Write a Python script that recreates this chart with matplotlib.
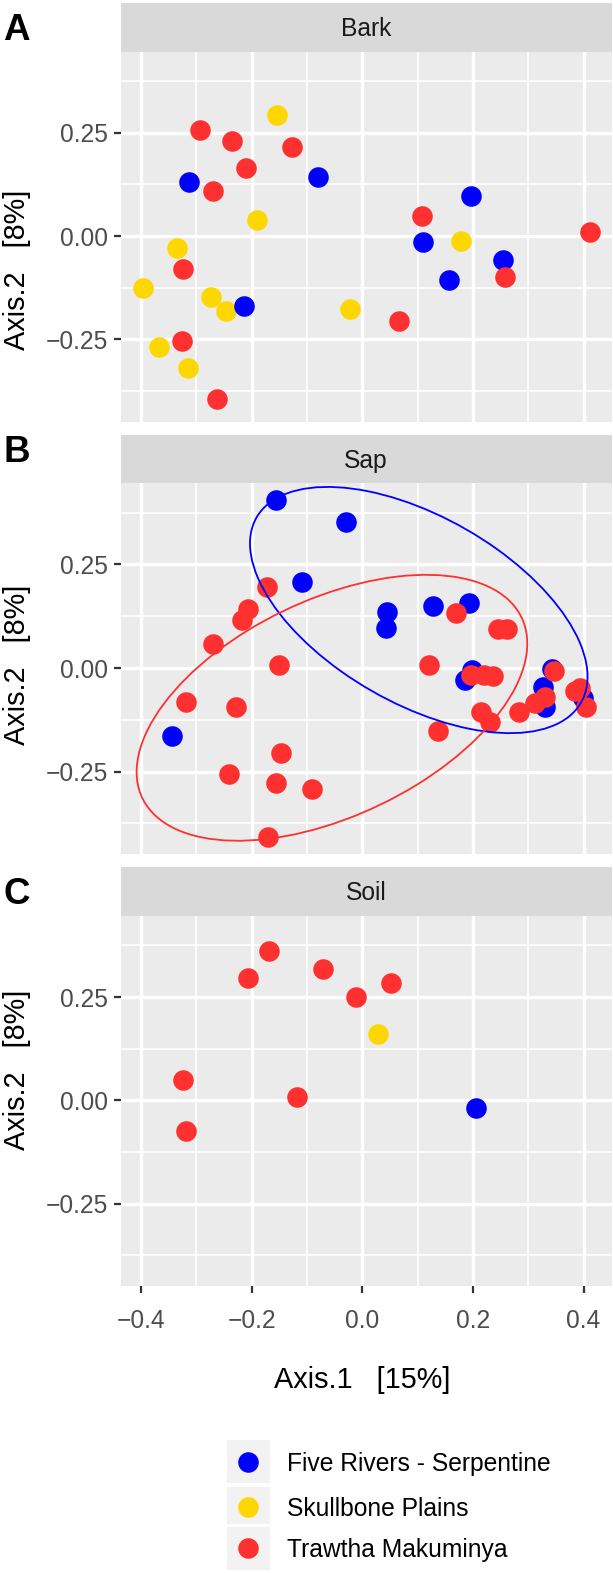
import numpy as np
import matplotlib
matplotlib.use("Agg")
import matplotlib.pyplot as plt
from matplotlib.patches import Rectangle, Ellipse

plt.rcParams['font.family'] = ['Liberation Sans', 'DejaVu Sans']

# Sites and colours
sites = ['Five Rivers - Serpentine', 'Skullbone Plains', 'Trawtha Makuminya']
site_colours = ['#0000FF', '#FFD700', '#FF3030']

# Bark (PCoA axis 1 / axis 2)
bark_fr_x = [-0.313, -0.081, -0.214, 0.110, 0.196, 0.157, 0.254]
bark_fr_y = [0.130, 0.143, -0.169, -0.014, 0.097, -0.106, -0.058]
bark_sp_x = [-0.154, -0.191, -0.336, -0.396, -0.274, -0.246, -0.367, -0.316, -0.023, 0.178]
bark_sp_y = [0.293, 0.038, -0.030, -0.125, -0.148, -0.181, -0.269, -0.318, -0.176, -0.011]
bark_tm_x = [-0.293, -0.235, -0.127, -0.210, -0.271, -0.325, -0.326, -0.263, 0.067, 0.108, 0.258, 0.411]
bark_tm_y = [0.256, 0.231, 0.215, 0.165, 0.110, -0.079, -0.254, -0.394, -0.206, 0.048, -0.098, 0.009]

# Sap
sap_fr_x = [-0.156, -0.030, -0.110, 0.045, 0.043, 0.127, 0.192, 0.198, 0.186, 0.343, 0.326, 0.331, 0.399, -0.345]
sap_fr_y = [0.405, 0.352, 0.208, 0.135, 0.097, 0.149, 0.157, -0.004, -0.028, -0.002, -0.046, -0.093, -0.073, -0.164]
sap_sp_x = []
sap_sp_y = []
sap_tm_x = [-0.173, -0.207, -0.217, -0.270, -0.151, -0.319, -0.228, -0.148, -0.241, -0.156, -0.091, -0.171,
            0.169, 0.246, 0.262, 0.120, 0.197, 0.220, 0.237, 0.347, 0.214, 0.230, 0.283, 0.312, 0.331,
            0.385, 0.393, 0.405, 0.136]
sap_tm_y = [0.195, 0.142, 0.115, 0.057, 0.007, -0.081, -0.094, -0.206, -0.256, -0.278, -0.292, -0.409,
            0.133, 0.094, 0.094, 0.007, -0.016, -0.018, -0.020, -0.006, -0.105, -0.131, -0.105, -0.085, -0.069,
            -0.056, -0.048, -0.093, -0.151]

# 95% ellipses in the Sap panel (Five Rivers, Trawtha)
sap_ell_site = [0, 2]
sap_ell_cx = [0.102, -0.055]
sap_ell_cy = [0.140, -0.096]
sap_ell_a = [0.374, 0.412]
sap_ell_b = [0.204, 0.241]
sap_ell_angle = [-43.6, 39.4]

# Soil
soil_fr_x = [0.206]
soil_fr_y = [-0.019]
soil_sp_x = [0.028]
soil_sp_y = [0.161]
soil_tm_x = [-0.169, -0.207, -0.071, -0.011, 0.051, -0.324, -0.119, -0.319]
soil_tm_y = [0.361, 0.297, 0.319, 0.250, 0.285, 0.049, 0.009, -0.074]

x_ticks = [-0.4, -0.2, 0.0, 0.2, 0.4]
x_tick_labels = ['\u22120.4', '\u22120.2', '0.0', '0.2', '0.4']
y_ticks = [-0.25, 0.0, 0.25]
y_tick_labels = ['\u22120.25', '0.00', '0.25']

W, H = 613, 1573
fig = plt.figure(figsize=(W / 100, H / 100), dpi=100)

# pixel layout: strip top, panel top, panel bottom, letter baseline, ylabel centre
layout = [
    ('A', 'Bark', 2.7, 51.7, 421.7, 40, 270),
    ('B', 'Sap', 435, 483.3, 854, 461.5, 665),
    ('C', 'Soil', 866.7, 916, 1286, 904.5, 1070),
]
panel_left, panel_right = 120.7, 611.5

panel_data = [
    [(bark_fr_x, bark_fr_y), (bark_sp_x, bark_sp_y), (bark_tm_x, bark_tm_y)],
    [(sap_fr_x, sap_fr_y), (sap_sp_x, sap_sp_y), (sap_tm_x, sap_tm_y)],
    [(soil_fr_x, soil_fr_y), (soil_sp_x, soil_sp_y), (soil_tm_x, soil_tm_y)],
]
draw_order = [1, 0, 2]

for i, (letter, strip, s_top, p_top, p_bot, l_base, yl_c) in enumerate(layout):
    ax = fig.add_axes([panel_left / W, 1 - p_bot / H,
                       (panel_right - panel_left) / W, (p_bot - p_top) / H])
    ax.set_facecolor('#EBEBEB')
    for sp in ax.spines.values():
        sp.set_visible(False)
    ax.set_xlim(-0.437, 0.4505)
    ax.set_ylim(-0.449, 0.446)
    ax.set_xticks(x_ticks)
    ax.set_xticks([-0.3, -0.1, 0.1, 0.3], minor=True)
    ax.set_yticks(y_ticks)
    ax.set_yticks([-0.375, -0.125, 0.125, 0.375], minor=True)
    ax.set_yticklabels(y_tick_labels)
    ax.grid(which='major', color='white', linewidth=2.4)
    ax.grid(which='minor', color='white', linewidth=1.2)
    ax.set_axisbelow(True)
    ax.tick_params(which='minor', length=0)
    ax.tick_params(axis='y', which='major', length=4.8, width=1.6, color='#333333',
                   labelsize=17.7, labelcolor='#4D4D4D', pad=4.2)
    if i < 2:
        ax.tick_params(axis='x', which='major', length=0, labelbottom=False)
    else:
        ax.set_xticklabels(x_tick_labels)
        ax.tick_params(axis='x', which='major', length=4.8, width=1.6, color='#333333',
                       labelsize=17.7, labelcolor='#4D4D4D', pad=12)

    for g in draw_order:
        gx, gy = panel_data[i][g]
        if len(gx):
            ax.scatter(gx, gy, s=219, color=site_colours[g], linewidths=0, zorder=3)

    if strip == 'Sap':
        for k, g in enumerate(sap_ell_site):
            ax.add_patch(Ellipse((sap_ell_cx[k], sap_ell_cy[k]), 2 * sap_ell_a[k], 2 * sap_ell_b[k],
                                 angle=sap_ell_angle[k], facecolor='none',
                                 edgecolor=site_colours[g], linewidth=1.3, zorder=4))

# overlay canvas in pixel units for strips, labels and legend
cv = fig.add_axes([0, 0, 1, 1], facecolor='none')
cv.set_xlim(0, W)
cv.set_ylim(H, 0)
cv.axis('off')

for letter, strip, s_top, p_top, p_bot, l_base, yl_c in layout:
    cv.add_patch(Rectangle((panel_left, s_top), panel_right - panel_left, p_top - s_top,
                           facecolor='#D9D9D9', edgecolor='none'))
    cv.text((panel_left + panel_right) / 2, (s_top + p_top) / 2 + 8.8, strip,
            ha='center', va='baseline', fontsize=17.7, color='#1A1A1A')
    cv.text(16.5, l_base, letter, ha='center', va='baseline', fontsize=26.5,
            fontweight='bold', color='black')
    cv.text(25, yl_c, 'Axis.2   [8%]', rotation=90, rotation_mode='anchor',
            ha='center', va='baseline', fontsize=20.8, color='black')

cv.text(362, 1388, 'Axis.1   [15%]', ha='center', va='baseline', fontsize=20.8, color='black')

# legend
key_rows = [(1440, 1483.3, 1462.3), (1486.7, 1524, 1507.3), (1527.3, 1570, 1548.3)]
for g, (k_top, k_bot, k_mid) in enumerate(key_rows):
    cv.add_patch(Rectangle((226.7, k_top), 43.3, k_bot - k_top, facecolor='#F2F2F2', edgecolor='none'))
    cv.scatter([248.3], [k_mid], s=219, color=site_colours[g], linewidths=0)
    cv.text(286.7, k_mid + 8.6, sites[g], ha='left', va='baseline', fontsize=17.7, color='black')

fig.savefig('out.png', dpi=100)
